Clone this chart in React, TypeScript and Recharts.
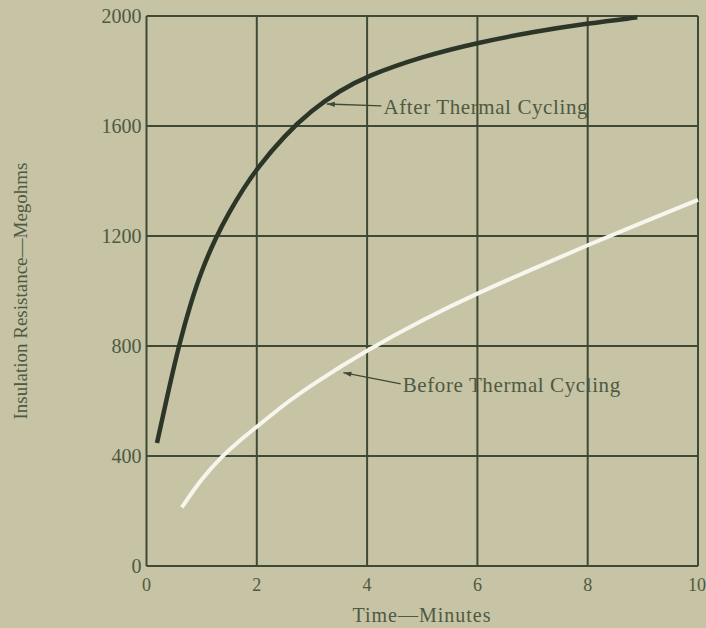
import React from 'react';
import { LineChart, Line, XAxis, YAxis, CartesianGrid, ReferenceLine } from 'recharts';

// Insulation resistance vs time, before / after thermal cycling
const X_TICKS = [0, 2, 4, 6, 8, 10];
const Y_TICKS = [0, 400, 800, 1200, 1600, 2000];

const AFTER_T = [0.19, 0.4, 0.6, 0.8, 1.0, 1.25, 1.5, 1.75, 2.0, 2.5, 3.0, 3.5, 4.0, 5.0, 6.0, 7.0, 8.0, 8.9];
const AFTER_R = [447, 640, 812, 955, 1075, 1192, 1287, 1370, 1445, 1565, 1658, 1728, 1782, 1853, 1903, 1942, 1973, 1995];

const BEFORE_T = [0.64, 1.0, 1.37, 1.7, 2.0, 2.5, 3.0, 4.0, 5.0, 6.0, 7.0, 8.0, 9.0, 10.0];
const BEFORE_R = [213, 318, 400, 458, 506, 588, 660, 785, 895, 992, 1080, 1167, 1250, 1331];

const AFTER_LABEL = 'After Thermal Cycling';
const BEFORE_LABEL = 'Before Thermal Cycling';
// [tip on curve, tail at label]
const AFTER_ARROW = [{ x: 3.27, y: 1680 }, { x: 4.26, y: 1673 }];
const BEFORE_ARROW = [{ x: 3.57, y: 703 }, { x: 4.61, y: 662 }];

const BG = '#c7c3a5';
const GRID = '#3f4a36';
const INK = '#4e5a42';
const FONT = '"Liberation Serif", "DejaVu Serif", serif';

const after = AFTER_T.map((t, i) => ({ t, r: AFTER_R[i] }));
const before = BEFORE_T.map((t, i) => ({ t, r: BEFORE_R[i] }));

function arrowShape(label: string) {
  return (p: any) => {
    const { x1, y1, x2, y2 } = p;
    const ang = Math.atan2(y1 - y2, x1 - x2);
    const L = 8, W = 2.6;
    const bx = x1 - L * Math.cos(ang), by = y1 - L * Math.sin(ang);
    const nx = -Math.sin(ang) * W, ny = Math.cos(ang) * W;
    return (
      <g>
        <line x1={x1} y1={y1} x2={x2} y2={y2} stroke={GRID} strokeWidth={1.3} />
        <polygon points={`${x1},${y1} ${bx + nx},${by + ny} ${bx - nx},${by - ny}`} fill={GRID} />
        <text x={x2 + 2} y={y2 + 1} dominantBaseline="central" fontFamily={FONT} fontSize={21} letterSpacing={0.6} fill={INK}>
          {label}
        </text>
      </g>
    );
  };
}

export default function App() {
  return (
    <div style={{ position: 'fixed', left: 0, top: 0, width: 706, height: 628, background: BG }}>
      <LineChart width={706} height={628} margin={{ top: 16, right: 8, bottom: 0, left: 0 }}>
        <CartesianGrid stroke={GRID} strokeWidth={2} vertical horizontal />
        <XAxis
          dataKey="t"
          type="number"
          domain={[0, 10]}
          ticks={X_TICKS}
          height={62}
          axisLine={false}
          tickLine={false}
          tickSize={0}
          tickMargin={12}
          tick={{ fontSize: 18, fontFamily: FONT, fill: INK }}
          label={() => (
            <text x={422} y={615} textAnchor="middle" dominantBaseline="central" fontFamily={FONT} fontSize={20} letterSpacing={1} fill={INK}>
              Time—Minutes
            </text>
          )}
        />
        <YAxis
          type="number"
          domain={[0, 2000]}
          ticks={Y_TICKS}
          width={146.5}
          axisLine={false}
          tickLine={false}
          tickSize={0}
          tickMargin={5}
          tick={{ fontSize: 20, fontFamily: FONT, fill: INK }}
          label={() => (
            <text
              x={20}
              y={291}
              transform="rotate(-90 20 291)"
              textAnchor="middle"
              dominantBaseline="central"
              fontFamily={FONT}
              fontSize={19}
              fill={INK}
            >
              Insulation Resistance—Megohms
            </text>
          )}
        />
        <Line data={after} dataKey="r" type="basis" stroke="#2c3628" strokeWidth={4.5} dot={false} isAnimationActive={false} />
        <Line data={before} dataKey="r" type="basis" stroke="#f7f6ee" strokeWidth={4} dot={false} isAnimationActive={false} />
        <ReferenceLine segment={AFTER_ARROW} shape={arrowShape(AFTER_LABEL)} ifOverflow="visible" />
        <ReferenceLine segment={BEFORE_ARROW} shape={arrowShape(BEFORE_LABEL)} ifOverflow="visible" />
      </LineChart>
    </div>
  );
}
